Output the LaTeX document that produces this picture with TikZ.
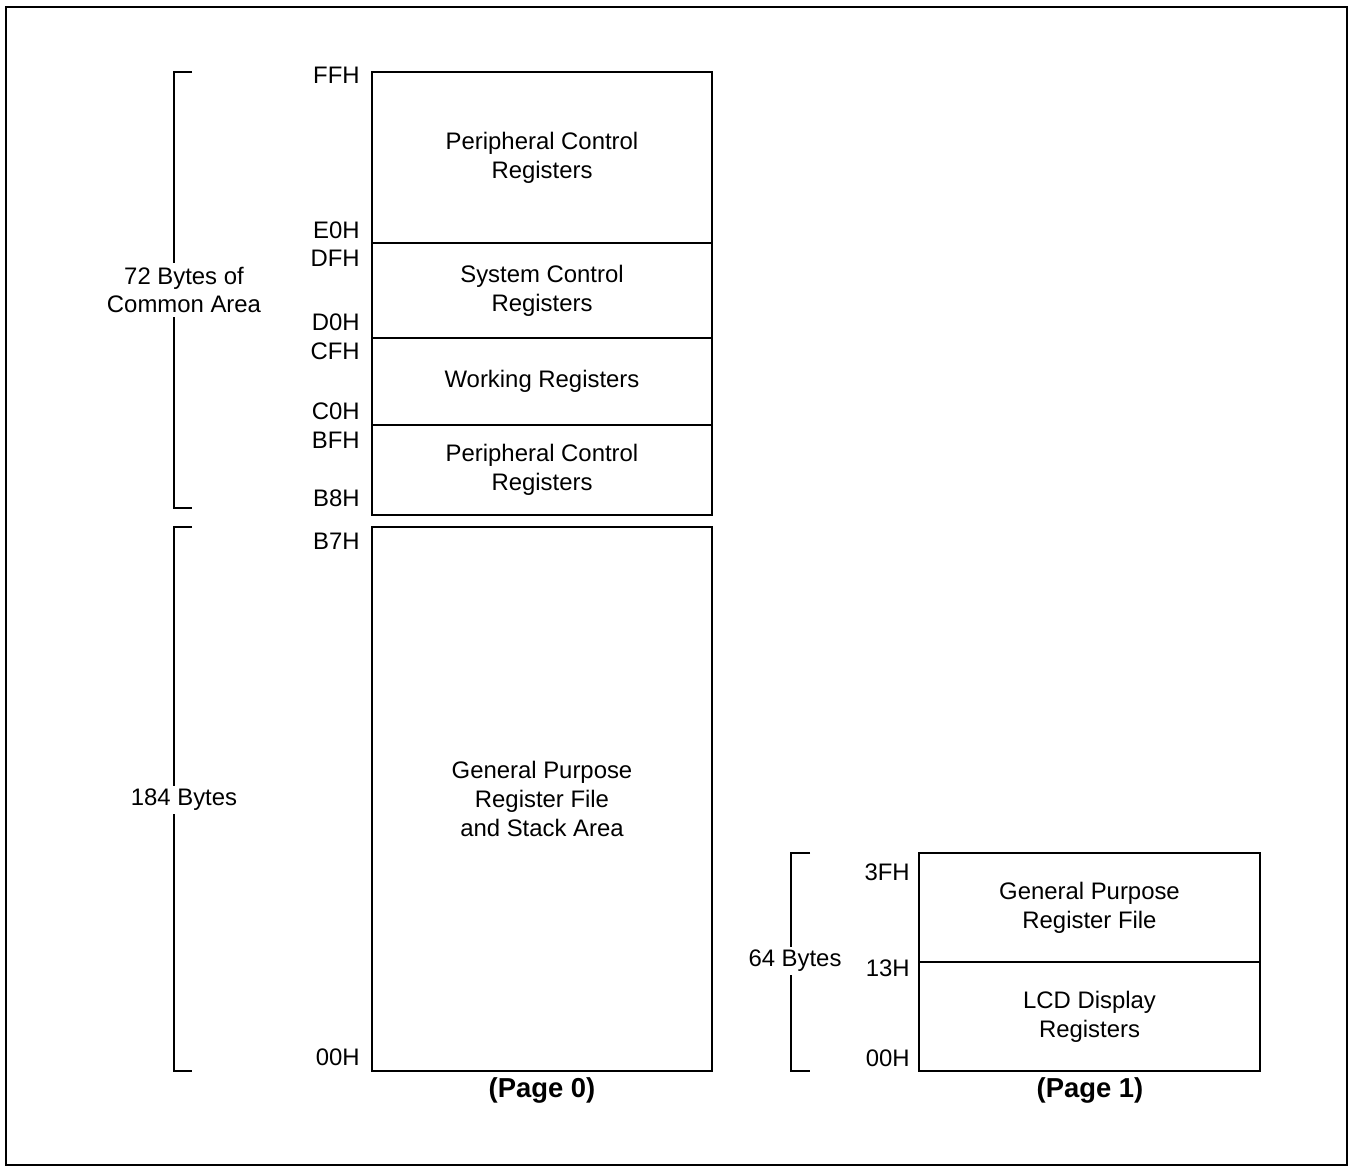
\documentclass[tikz,border=0pt]{standalone}
\usepackage{fontspec}
\setmainfont{Liberation Sans}
\usetikzlibrary{positioning}
\newcommand{\regfont}{\fontsize{13.6}{16.4}\selectfont}
\tikzset{
  reg/.style={draw,line width=1pt,outer sep=0pt,inner sep=0pt,
              minimum width=6.8cm,align=center,font=\regfont},
  addr/.style={anchor=east,inner sep=0pt,font=\regfont},
  brk/.style={line width=1pt},
  span/.style={fill=white,align=center,inner sep=2pt,font=\regfont},
  pagelbl/.style={font=\fontsize{15.6}{18}\selectfont\bfseries},
}

\begin{document}
\begin{tikzpicture}[x=0.02cm,y=-0.02cm]
  \useasboundingbox (0,0) rectangle (1353,1171);
  \draw[line width=1.2pt] (6,7) rectangle (1347,1165);
  % Page 0 register map
  \node[reg,anchor=north,minimum height=3.42cm] (pcrhi) at (542,72) {Peripheral Control\\Registers};
  \node[reg,below=0pt of pcrhi,minimum height=1.9cm] (scr) {System Control\\Registers};
  \node[reg,below=0pt of scr,minimum height=1.74cm] (wr) {Working Registers};
  \node[reg,below=0pt of wr,minimum height=1.8cm] (pcrlo) {Peripheral Control\\Registers};
  \node[reg,below=0.24cm of pcrlo,minimum height=10.88cm] (gpr0) {General Purpose\\Register File\\and Stack Area};
  \node[pagelbl] (pg0) at (542,1090) {(Page 0)};
  \node[addr] (aFF) at (360,75) {FFH};
  \node[addr] (aE0) at (360,230) {E0H};
  \node[addr] (aDF) at (360,258) {DFH};
  \node[addr] (aD0) at (360,322) {D0H};
  \node[addr] (aCF) at (360,351) {CFH};
  \node[addr] (aC0) at (360,411) {C0H};
  \node[addr] (aBF) at (360,440) {BFH};
  \node[addr] (aB8) at (360,498) {B8H};
  \node[addr] (aB7) at (360,541) {B7H};
  \node[addr] (a00) at (360,1057) {00H};
  % Page 1 register map
  \node[reg,anchor=north,minimum width=6.82cm,minimum height=2.18cm] (gpr1) at (1089.5,853) {General Purpose\\Register File};
  \node[reg,below=0pt of gpr1,minimum width=6.82cm,minimum height=2.18cm] (lcd) {LCD Display\\Registers};
  \node[pagelbl] (pg1) at (1090,1090) {(Page 1)};
  \node[addr] (p3F) at (910,872) {3FH};
  \node[addr] (p13) at (910,968) {13H};
  \node[addr] (p00) at (910,1058) {00H};
  % brackets
  \coordinate (b1t) at (192,72);  \coordinate (b1b) at (192,508);
  \coordinate (b2t) at (192,527); \coordinate (b2b) at (192,1071);
  \coordinate (b3t) at (810,853); \coordinate (b3b) at (810,1071);
  \draw[brk] (b1t) -- ++(-18,0) |- (b1b);
  \draw[brk] (b2t) -- ++(-18,0) |- (b2b);
  \draw[brk] (b3t) -- ++(-19,0) |- (b3b);
  \node[span] (common) at (184,290) {72 Bytes of\\Common Area};
  \node[span] (bytes184) at (184,800) {184 Bytes};
  \node[span] (bytes64) at (795,961) {64 Bytes};
\end{tikzpicture}
\end{document}
